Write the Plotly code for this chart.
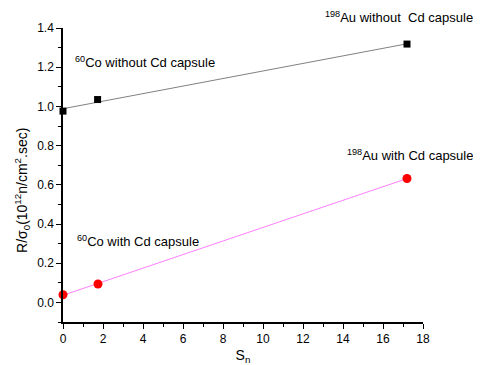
import numpy as np
import plotly.graph_objects as go

# Data
sn_without = [0.0, 1.73, 17.2]
r_without = [0.976, 1.035, 1.318]
sn_with = [0.0, 1.75, 17.2]
r_with = [0.039, 0.094, 0.632]

labels = {
    "co_without": "<sup>60</sup>Co without Cd capsule",
    "au_without": "<sup>198</sup>Au without  Cd capsule",
    "au_with": "<sup>198</sup>Au with Cd capsule",
    "co_with": "<sup>60</sup>Co with Cd capsule",
}
y_title = "R/σ<sub>0</sub>(10<sup>12</sup>n/cm<sup>2</sup>.sec)"
x_title = "S<sub>n</sub>"

def fit(x, y):
    m, b = np.polyfit(x, y, 1)
    xs = [min(x), max(x)]
    return xs, [m * v + b for v in xs]

fx1, fy1 = fit(sn_without, r_without)
fx2, fy2 = fit(sn_with, r_with)

fig = go.Figure()
fig.add_trace(go.Scatter(x=fx1, y=fy1, mode="lines", line=dict(color="#808080", width=1), cliponaxis=False))
fig.add_trace(go.Scatter(x=fx2, y=fy2, mode="lines", line=dict(color="#ff80ff", width=1), cliponaxis=False))
fig.add_trace(go.Scatter(x=sn_without, y=r_without, mode="markers",
                         marker=dict(symbol="square", size=7, color="black"), cliponaxis=False))
fig.add_trace(go.Scatter(x=sn_with, y=r_with, mode="markers",
                         marker=dict(symbol="circle", size=9, color="red"), cliponaxis=False))

font = dict(family="Liberation Sans, Arial", size=13, color="black")
fig.add_annotation(x=0.5, y=1.226, text=labels["co_without"], showarrow=False, xanchor="left", font=font)
fig.add_annotation(x=13.0, xref="x", yref="paper", y=1.036, text=labels["au_without"], showarrow=False,
                   xanchor="left", yanchor="middle", font=font)
fig.add_annotation(x=14.1, y=0.751, text=labels["au_with"], showarrow=False, xanchor="left", font=font)
fig.add_annotation(x=0.6, y=0.312, text=labels["co_with"], showarrow=False, xanchor="left", font=font)
fig.add_annotation(x=-0.114, y=0.449, xref="paper", yref="paper", text=y_title, textangle=-90,
                   showarrow=False, xanchor="center", yanchor="middle",
                   font=dict(family="Liberation Sans, Arial", size=14, color="black"))

fig.update_layout(
    width=473, height=357,
    margin=dict(l=55, r=58, t=20, b=43),
    paper_bgcolor="white", plot_bgcolor="white",
    showlegend=False,
    font=dict(family="Liberation Sans, Arial", size=12, color="black"),
)
fig.update_xaxes(range=[0, 18], dtick=2, showgrid=False, zeroline=False, automargin=False,
                 showline=True, linecolor="black", linewidth=1.5,
                 ticks="outside", ticklen=5, tickwidth=1, tickcolor="black",
                 minor=dict(dtick=1, ticks="outside", ticklen=3, tickcolor="black"),
                 title=dict(text=x_title, font=dict(size=14), standoff=8))
fig.update_yaxes(range=[-0.1, 1.4], tick0=0, dtick=0.2, tickformat=".1f", showgrid=False, zeroline=False,
                 automargin=False,
                 showline=True, linecolor="black", linewidth=1.5,
                 ticks="outside", ticklen=5, tickwidth=1, tickcolor="black",
                 minor=dict(dtick=0.1, ticks="outside", ticklen=3, tickcolor="black"))

fig.write_html("out.html")
